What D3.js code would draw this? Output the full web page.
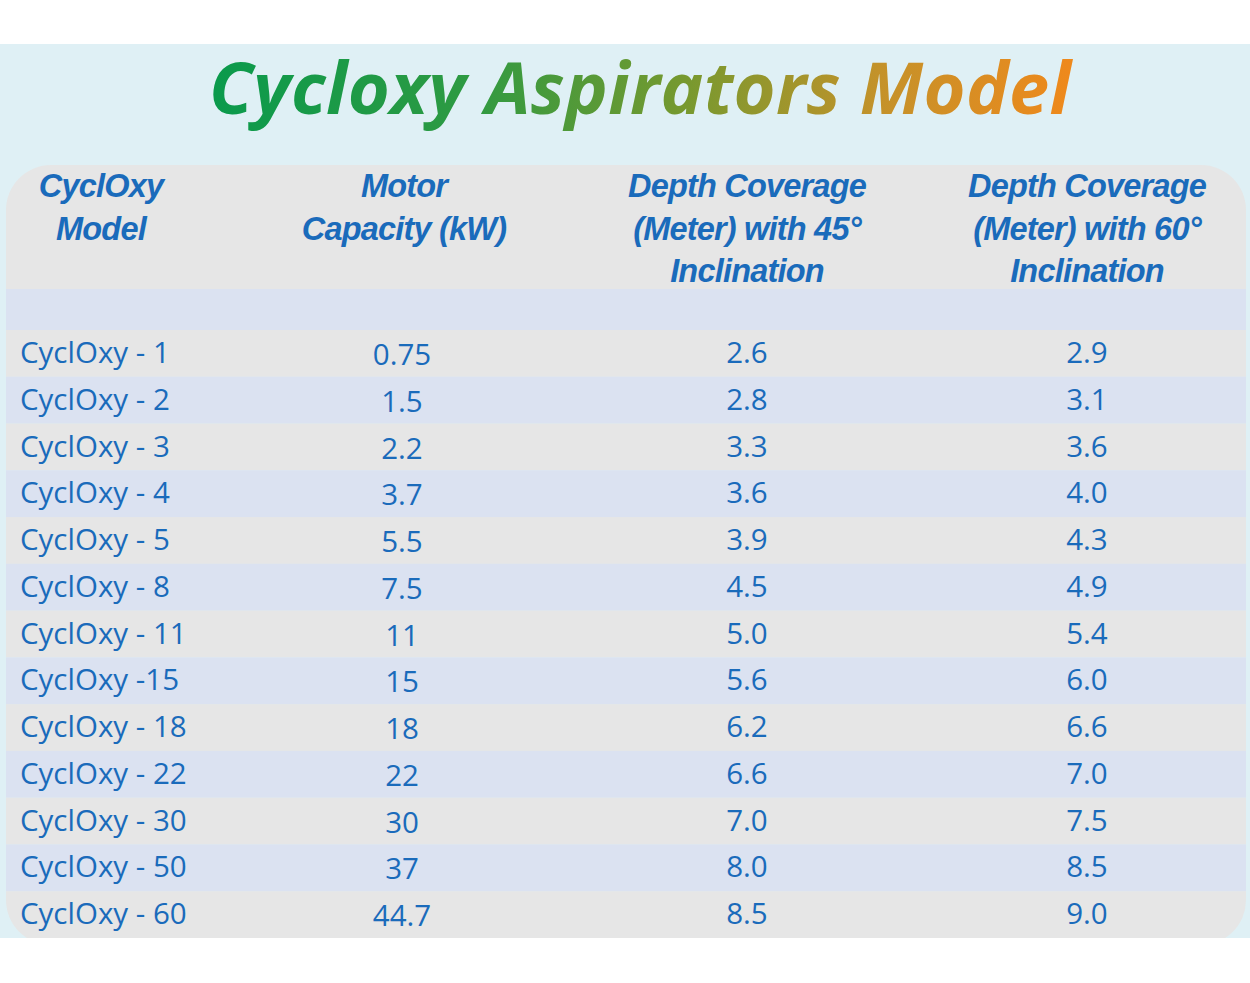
<!DOCTYPE html>
<html>
<head>
<meta charset="utf-8">
<script src="https://cdn.jsdelivr.net/npm/d3@7"></script>
<style>
  html, body { margin: 0; padding: 0; background: #ffffff; }
  svg { display: block; }
</style>
</head>
<body>
<svg id="chart" width="1250" height="983"></svg>
<script>
// ---- data ----
const title = "Cycloxy Aspirators Model";
const headers = [
  ["CyclOxy", "Model"],
  ["Motor", "Capacity (kW)"],
  ["Depth Coverage", "(Meter) with 45°", "Inclination"],
  ["Depth Coverage", "(Meter) with 60°", "Inclination"]
];
const models = ["CyclOxy - 1", "CyclOxy - 2", "CyclOxy - 3", "CyclOxy - 4", "CyclOxy - 5",
  "CyclOxy - 8", "CyclOxy - 11", "CyclOxy -15", "CyclOxy - 18", "CyclOxy - 22",
  "CyclOxy - 30", "CyclOxy - 50", "CyclOxy - 60"];
const motorKW = ["0.75", "1.5", "2.2", "3.7", "5.5", "7.5", "11", "15", "18", "22", "30", "37", "44.7"];
const depth45 = ["2.6", "2.8", "3.3", "3.6", "3.9", "4.5", "5.0", "5.6", "6.2", "6.6", "7.0", "8.0", "8.5"];
const depth60 = ["2.9", "3.1", "3.6", "4.0", "4.3", "4.9", "5.4", "6.0", "6.6", "7.0", "7.5", "8.5", "9.0"];

// ---- layout ----
const W = 1250, H = 983;
const svg = d3.select("#chart");
const textColor = "#1a6bbb";

const defs = svg.append("defs");
const grad = defs.append("linearGradient").attr("id", "titleGrad")
  .attr("gradientUnits", "userSpaceOnUse").attr("x1", 212).attr("x2", 1068).attr("y1", 0).attr("y2", 0);
[[0, "#0a9a4c"], [0.3, "#2e9a42"], [0.55, "#76992f"], [0.78, "#c4922a"], [1, "#ee891c"]]
  .forEach(([o, c]) => grad.append("stop").attr("offset", o).attr("stop-color", c));

defs.append("clipPath").attr("id", "panelClip")
  .append("rect").attr("x", 0).attr("y", 44).attr("width", W).attr("height", 894);
defs.append("clipPath").attr("id", "tableClip")
  .append("rect").attr("x", 6).attr("y", 165).attr("width", 1240).attr("height", 780)
  .attr("rx", 45).attr("ry", 45);

svg.append("rect").attr("width", W).attr("height", H).attr("fill", "#ffffff");
const panel = svg.append("g").attr("clip-path", "url(#panelClip)");
panel.append("rect").attr("x", 0).attr("y", 44).attr("width", W).attr("height", 894).attr("fill", "#dff0f5");

// title
panel.append("text")
  .attr("x", 640).attr("y", 114)
  .attr("text-anchor", "middle")
  .attr("font-family", "'Open Sans', sans-serif")
  .attr("font-weight", 700).attr("font-style", "italic")
  .attr("font-size", 72)
  .attr("letter-spacing", 0.3)
  .attr("fill", "url(#titleGrad)")
  .text(title);

const table = panel.append("g").attr("clip-path", "url(#tableClip)");

// header backgrounds
table.append("rect").attr("x", 0).attr("y", 160).attr("width", W).attr("height", 129).attr("fill", "#e6e6e6");
table.append("rect").attr("x", 0).attr("y", 289).attr("width", W).attr("height", 41).attr("fill", "#dbe2f1");

// row scale
const y = d3.scaleBand().domain(d3.range(models.length)).range([330, 938]);
table.selectAll("rect.row").data(models).join("rect")
  .attr("class", "row")
  .attr("x", 0).attr("width", W)
  .attr("y", (d, i) => y(i)).attr("height", (d, i) => i === models.length - 1 ? y.bandwidth() + 20 : y.bandwidth())
  .attr("fill", (d, i) => i % 2 === 0 ? "#e6e6e6" : "#dbe2f1");

// columns
const colCenters = d3.scaleOrdinal().domain([0, 1, 2, 3]).range([101, 404, 747, 1087]);

// header text
const hdr = table.append("g")
  .attr("font-family", "'Liberation Sans', Arial, sans-serif")
  .attr("font-weight", 700).attr("font-style", "italic")
  .attr("font-size", 32.5).attr("letter-spacing", -0.8)
  .attr("fill", textColor).attr("text-anchor", "middle");
headers.forEach((lines, c) => {
  hdr.selectAll(null).data(lines).join("text")
    .attr("x", colCenters(c))
    .attr("y", (d, i) => 197 + i * 42.5)
    .text(d => d);
});

// body text
const body = table.append("g")
  .attr("font-family", "'Open Sans', sans-serif")
  .attr("font-size", 29.5)
  .attr("fill", textColor);
body.selectAll("text.model").data(models).join("text")
  .attr("class", "model")
  .attr("x", 20).attr("y", (d, i) => y(i) + 33)
  .text(d => d);
[motorKW, depth45, depth60].forEach((arr, k) => {
  body.selectAll(null).data(arr).join("text")
    .attr("x", colCenters(k + 1) - (k === 0 ? 2 : 0))
    .attr("y", (d, i) => y(i) + (k === 0 ? 35 : 33))
    .attr("text-anchor", "middle")
    .text(d => d);
});
</script>
</body>
</html>
